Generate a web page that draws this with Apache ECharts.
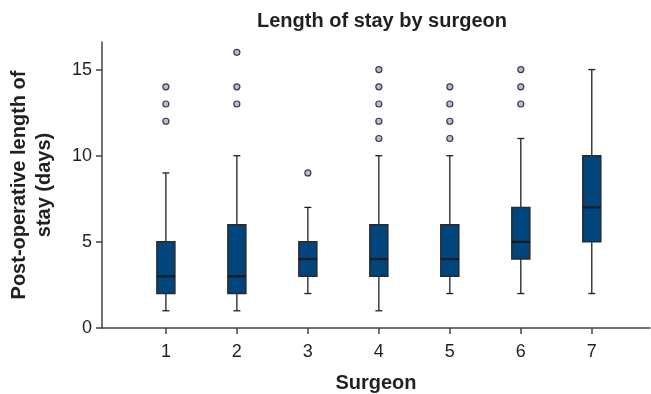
<!DOCTYPE html>
<html><head><meta charset="utf-8">
<script src="https://cdn.jsdelivr.net/npm/echarts@6/dist/echarts.min.js"></script>
<style>html,body{margin:0;padding:0;background:#fff}#c{width:651px;height:394px}</style>
</head><body><div id="c"></div>
<script>
var surgeons = [1, 2, 3, 4, 5, 6, 7];
var whiskerLow  = [1, 1, 2, 1, 2, 2, 2];
var quart1      = [2, 2, 3, 3, 3, 4, 5];
var medians     = [3, 3, 4, 4, 4, 5, 7];
var quart3      = [5, 6, 5, 6, 6, 7, 10];
var whiskerHigh = [9, 10, 7, 10, 10, 11, 15];
var outliers = [
  [12, 13, 14],
  [13, 14, 16],
  [9],
  [11, 12, 13, 14, 15],
  [11, 12, 13, 14],
  [13, 14, 15],
  []
];
var yTicks = [0, 5, 10, 15];

var boxData = surgeons.map(function (s, i) {
  return [s, whiskerLow[i], quart1[i], medians[i], quart3[i], whiskerHigh[i]];
});
var outlierData = [];
surgeons.forEach(function (s, i) {
  outliers[i].forEach(function (v) { outlierData.push([s, v]); });
});

var font = '"Liberation Sans", Arial, sans-serif';
var chart = echarts.init(document.getElementById('c'), null, {renderer: 'canvas'});
chart.setOption({
  animation: false,
  title: {
    text: 'Length of stay by surgeon', left: 377, top: 6, textAlign: 'center',
    textStyle: {fontFamily: font, fontSize: 20, fontWeight: 'bold', color: '#231f20'}
  },
  grid: {left: 102, right: 1, top: 42, bottom: 66, containLabel: false, outerBoundsMode: 'none'},
  xAxis: {
    type: 'value', min: 0.1, max: 7.82,
    name: 'Surgeon', nameLocation: 'middle', nameGap: 45,
    nameTextStyle: {fontFamily: font, fontSize: 20, fontWeight: 'bold', color: '#231f20'},
    axisLine: {show: true, lineStyle: {color: '#444', width: 1.5}},
    axisTick: {show: true, customValues: surgeons, length: 6, lineStyle: {color: '#444', width: 1.5}},
    axisLabel: {customValues: surgeons, fontFamily: font, fontSize: 18, color: '#231f20', margin: 15},
    splitLine: {show: false}
  },
  yAxis: {
    type: 'value', min: 0, max: 16.6,
    name: 'Post-operative length of\nstay (days)', nameLocation: 'middle', nameGap: 45, nameRotate: 90,
    nameTextStyle: {fontFamily: font, fontSize: 20, fontWeight: 'bold', color: '#231f20', lineHeight: 25},
    axisLine: {show: true, lineStyle: {color: '#444', width: 1.5}},
    axisTick: {show: true, customValues: yTicks, length: 6, lineStyle: {color: '#444', width: 1.5}},
    axisLabel: {customValues: yTicks, fontFamily: font, fontSize: 18, color: '#231f20', margin: 10},
    splitLine: {show: false}
  },
  series: [
    {
      type: 'custom',
      data: boxData,
      encode: {x: 0, y: [1, 2, 3, 4, 5]},
      renderItem: function (params, api) {
        var x = api.value(0);
        var pMin = api.coord([x, api.value(1)]);
        var pQ1 = api.coord([x, api.value(2)]);
        var pMed = api.coord([x, api.value(3)]);
        var pQ3 = api.coord([x, api.value(4)]);
        var pMax = api.coord([x, api.value(5)]);
        var cx = pMed[0];
        var hw = 9, cap = 3.5;
        var ls = {stroke: '#231f20', lineWidth: 1.3};
        return {
          type: 'group',
          children: [
            {type: 'line', shape: {x1: cx, y1: pMax[1], x2: cx, y2: pQ3[1]}, style: ls},
            {type: 'line', shape: {x1: cx, y1: pQ1[1], x2: cx, y2: pMin[1]}, style: ls},
            {type: 'line', shape: {x1: cx - cap, y1: pMax[1], x2: cx + cap, y2: pMax[1]}, style: ls},
            {type: 'line', shape: {x1: cx - cap, y1: pMin[1], x2: cx + cap, y2: pMin[1]}, style: ls},
            {type: 'rect', shape: {x: cx - hw, y: pQ3[1], width: 2 * hw, height: pQ1[1] - pQ3[1]},
              style: {fill: '#00457c', stroke: '#2a2a2e', lineWidth: 1.5}},
            {type: 'line', shape: {x1: cx - hw, y1: pMed[1], x2: cx + hw, y2: pMed[1]},
              style: {stroke: '#1a1a1e', lineWidth: 2.2}}
          ]
        };
      },
      z: 2
    },
    {
      type: 'scatter',
      data: outlierData,
      symbol: 'circle', symbolSize: 6,
      itemStyle: {color: '#b4bedc', borderColor: '#3a3a44', borderWidth: 1.2, opacity: 1},
      z: 3
    }
  ]
});
</script>
</body></html>
